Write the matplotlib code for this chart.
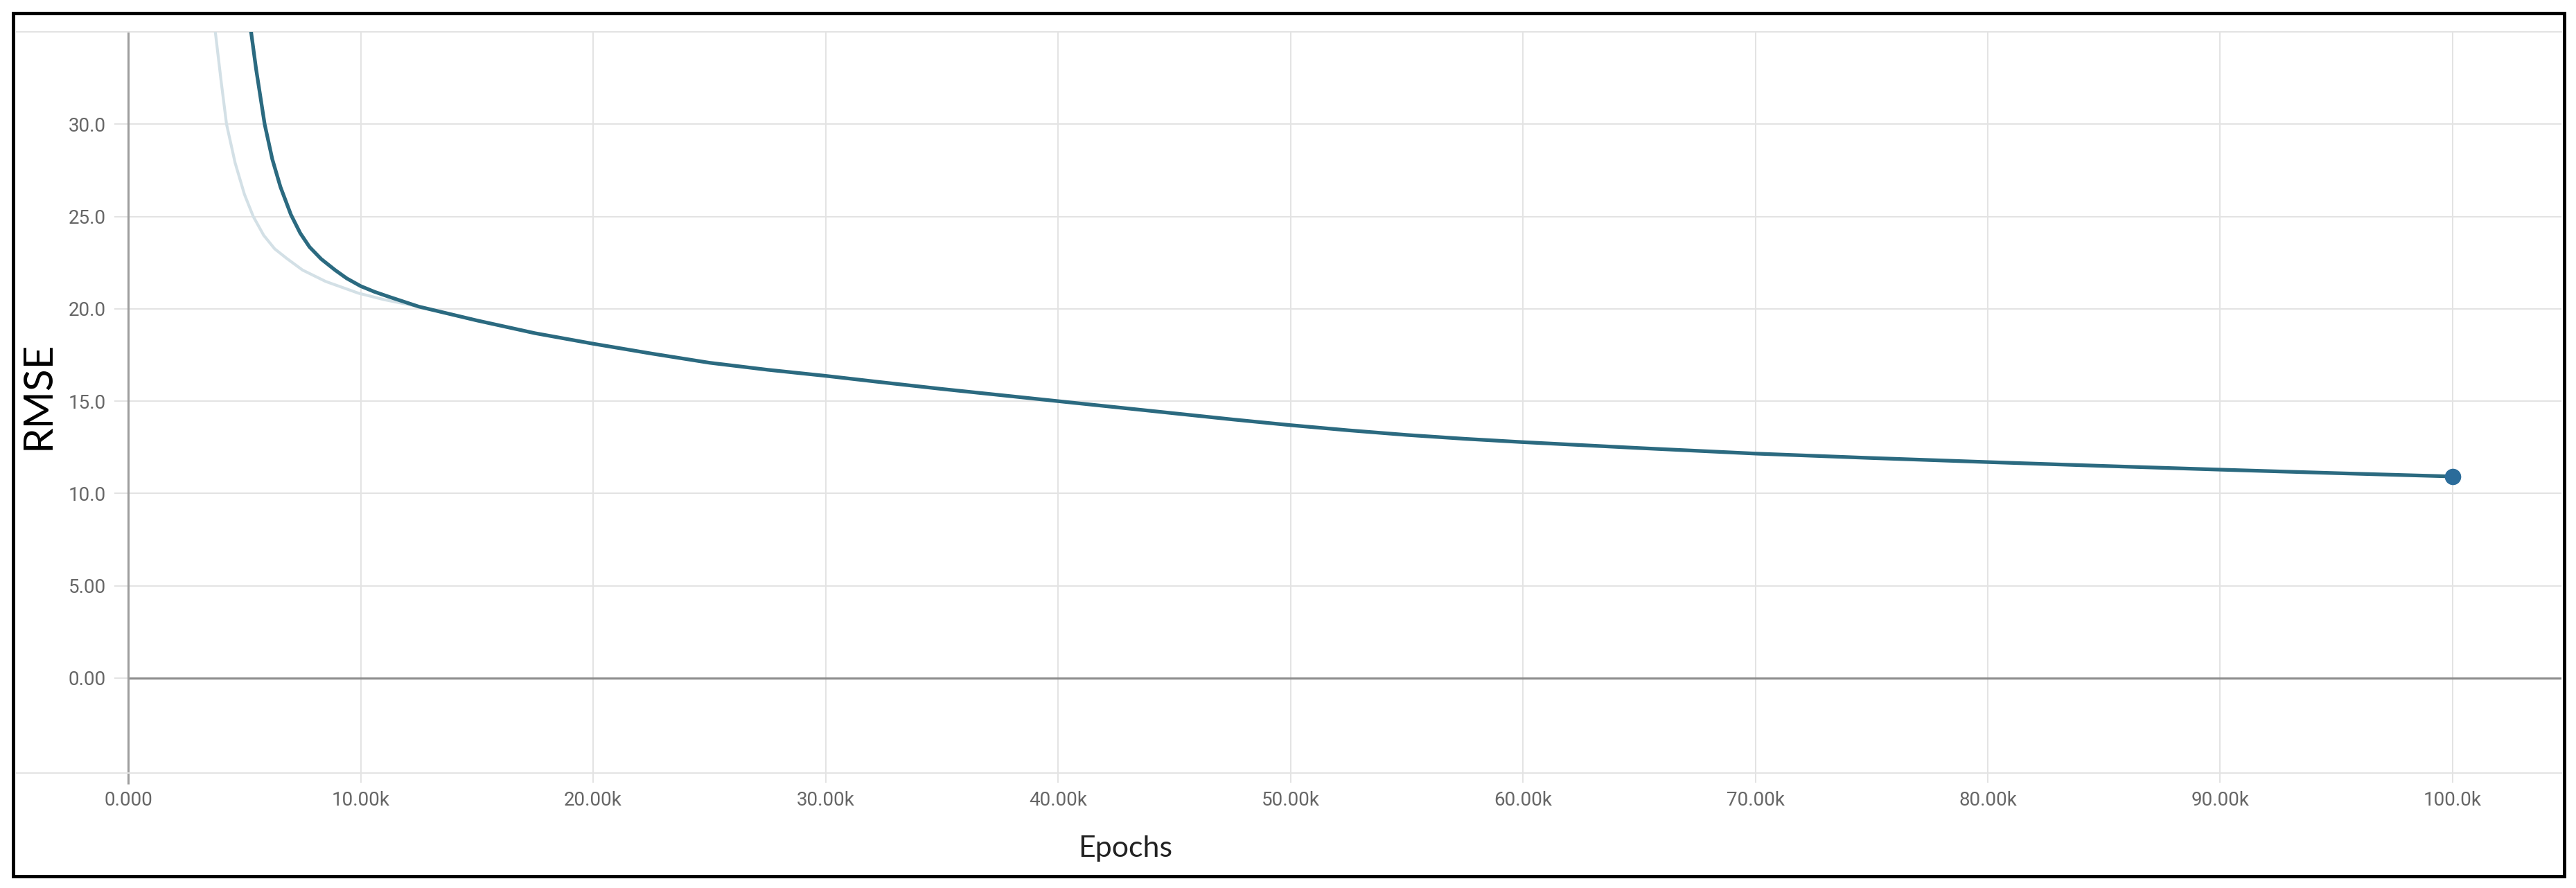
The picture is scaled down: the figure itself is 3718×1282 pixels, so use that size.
import matplotlib.pyplot as plt
from matplotlib.patches import Rectangle

# smoothed curve (dark) and raw curve (light)
dark_epochs = [5200, 5500, 5870, 6200, 6550, 7000, 7400, 7800, 8300, 8900, 9400,
               10000, 10600, 11200, 12500, 15000, 17500, 20000, 22500, 25000, 27500,
               30000, 32500, 35000, 37500, 40000, 42500, 45000, 47500, 50000, 52500,
               55000, 57500, 60000, 62500, 65000, 67500, 70000, 75000, 80000, 85000,
               90000, 95000, 100000]
dark_rmse = [35.8, 33.0, 30.0, 28.1, 26.6, 25.1, 24.1, 23.35, 22.7, 22.1, 21.65,
             21.23, 20.92, 20.66, 20.12, 19.37, 18.68, 18.11, 17.58, 17.08, 16.70,
             16.37, 16.01, 15.66, 15.33, 15.0, 14.67, 14.34, 14.01, 13.70, 13.42,
             13.17, 12.96, 12.78, 12.62, 12.46, 12.31, 12.16, 11.92, 11.70, 11.49,
             11.29, 11.10, 10.92]

light_epochs = [3700, 4000, 4230, 4600, 5000, 5380, 5830, 6300, 6820, 7500, 8500,
                9900, 11000, 12500, 15000]
light_rmse = [35.5, 32.3, 30.0, 27.9, 26.2, 25.0, 23.98, 23.25, 22.73, 22.1, 21.48,
              20.85, 20.5, 20.12, 19.37]

xticks = [0, 10000, 20000, 30000, 40000, 50000, 60000, 70000, 80000, 90000, 100000]
xtick_labels = ['0.000', '10.00k', '20.00k', '30.00k', '40.00k', '50.00k',
                '60.00k', '70.00k', '80.00k', '90.00k', '100.0k']
yticks = [0, 5, 10, 15, 20, 25, 30]
ytick_labels = ['0.00', '5.00', '10.0', '15.0', '20.0', '25.0', '30.0']

plt.rcParams['font.family'] = ['Roboto', 'DejaVu Sans']

fig = plt.figure(figsize=(37.18, 12.82), dpi=100)
ax = fig.add_axes([0.00646, 0.12949, 0.98789, 0.83463])

x0, x1 = -4800, 104680
y0, y1 = -5.14, 35.0
grid_c = '#e3e3e3'

# grid
ax.hlines(yticks, -600, x1, color=grid_c, lw=1.4, zorder=1)
ax.vlines(xticks[1:], y0, y1, color=grid_c, lw=1.4, zorder=1)
ax.hlines(0, 0, x1, color='#8c8c8c', lw=2.2, zorder=2)
ax.vlines(0, y0 - 0.6, y1, color='#9e9e9e', lw=2.2, zorder=2, clip_on=False)

# curves
ax.plot(light_epochs, light_rmse, color='#d3e0e6', lw=3.0, zorder=3)
ax.plot(dark_epochs, dark_rmse, color='#2b6a80', lw=3.8, zorder=4,
        solid_capstyle='round', solid_joinstyle='round')
ax.plot(dark_epochs[-1], dark_rmse[-1], 'o', ms=16, color='#2b6c9a', zorder=5)

ax.set_xlim(x0, x1)
ax.set_ylim(y0, y1)

ax.set_xticks(xticks, labels=xtick_labels)
ax.set_yticks(yticks, labels=ytick_labels)
ax.tick_params(axis='x', length=10, width=1.4, color=grid_c, pad=9,
               labelsize=20, labelcolor='#666666')
ax.tick_params(axis='y', length=0, pad=-93, labelsize=20, labelcolor='#666666')

for s in ['left', 'right']:
    ax.spines[s].set_visible(False)
for s in ['top', 'bottom']:
    ax.spines[s].set_color(grid_c)
    ax.spines[s].set_linewidth(1.4)

fig.text(0.0149, 0.5546, 'RMSE', rotation=90, ha='center', va='center',
         fontsize=42, family='Lato', color='black')
fig.text(0.4368, 0.0351, 'Epochs', ha='center', va='baseline',
         fontsize=31, family='Lato', color='#222222')

# black frame around the whole picture
fig.patches.append(Rectangle((19 / 3718, 17 / 1282), (3701 - 19) / 3718, (1263 - 17) / 1282,
                             transform=fig.transFigure, fill=False,
                             edgecolor='black', lw=3.6))

fig.savefig('out.png', dpi=100)
